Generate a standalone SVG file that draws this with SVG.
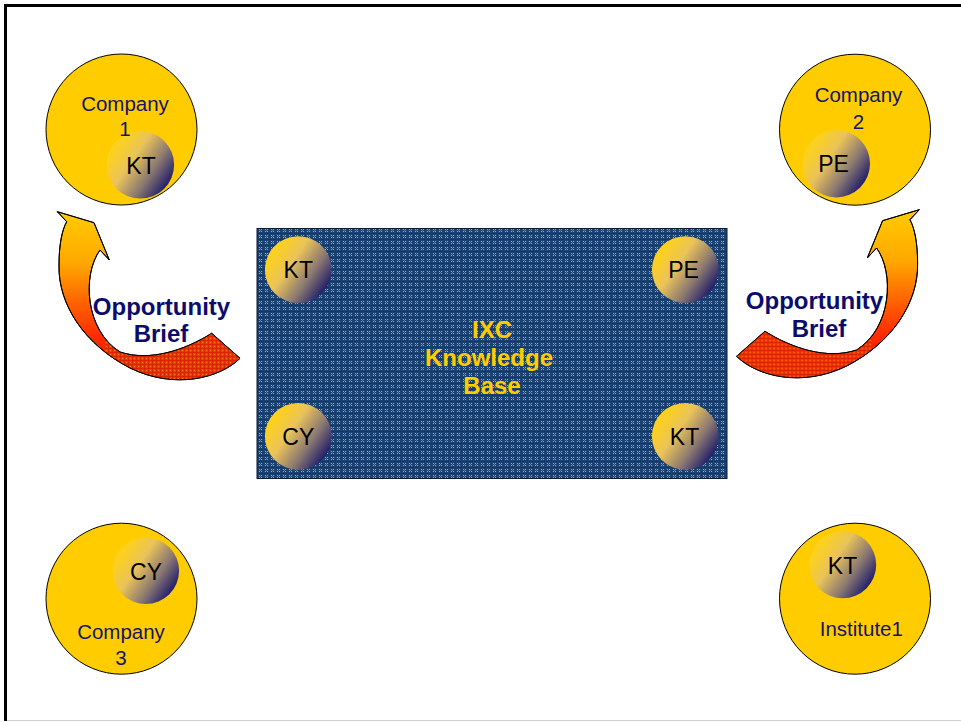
<svg xmlns="http://www.w3.org/2000/svg" width="961" height="722" viewBox="0 0 961 722">
<style>
.org{fill:#ffcc00;stroke:#000;stroke-width:1}
.ball{fill:url(#ballGrad)}
.balltxt{font-family:"Liberation Sans",Arial,sans-serif;font-size:23px;fill:#000;text-anchor:middle}
.orgtxt{font-family:"Liberation Sans",Arial,sans-serif;font-size:20.5px;fill:#15156b;text-anchor:middle}
.kbtxt{font-family:"Liberation Sans",Arial,sans-serif;font-size:24px;font-weight:bold;fill:#ffcc00;text-anchor:middle}
.arrtxt{font-family:"Liberation Sans",Arial,sans-serif;font-size:24px;font-weight:bold;fill:#0c0c6c;text-anchor:middle}
.arrow{fill:url(#arrowGrad);stroke:#000;stroke-width:1}
</style>
<defs>
<linearGradient id="ballGrad" x1="0.15" y1="0.25" x2="0.95" y2="0.8">
<stop offset="0" stop-color="#fcd020"/>
<stop offset="0.3" stop-color="#eac35a"/>
<stop offset="0.65" stop-color="#8a7872"/>
<stop offset="1" stop-color="#14126a"/>
</linearGradient>
<linearGradient id="arrowGrad" gradientUnits="userSpaceOnUse" x1="0" y1="212" x2="0" y2="380">
<stop offset="0" stop-color="#ffcc00"/>
<stop offset="0.3" stop-color="#ffa800"/>
<stop offset="0.55" stop-color="#ff6000"/>
<stop offset="0.75" stop-color="#ff2a00"/>
<stop offset="1" stop-color="#e01800"/>
</linearGradient>
<pattern id="kbPat" width="6" height="6" patternUnits="userSpaceOnUse">
<rect width="6" height="6" fill="#1a4272"/>
<rect x="1" y="1" width="1" height="1" fill="#8ea8c8"/>
<rect x="3" y="1" width="1" height="1" fill="#8ea8c8"/>
<rect x="1" y="3" width="1" height="1" fill="#8ea8c8"/>
<rect x="3" y="3" width="1" height="1" fill="#8ea8c8"/>
<rect x="2" y="2" width="1" height="1" fill="#5a7aa2"/>
<rect x="0" y="5" width="6" height="1" fill="#153766"/>
</pattern>
<pattern id="redPat" width="4" height="4" patternUnits="userSpaceOnUse">
<rect width="4" height="4" fill="#ff3a00"/>
<rect x="0" y="0" width="4" height="1" fill="#d82400"/>
<rect x="0" y="0" width="1" height="4" fill="#d82400"/>
<rect x="2" y="2" width="1" height="1" fill="#ff8a20"/>
</pattern>
<clipPath id="tailClip"><rect x="105" y="328" width="140" height="60"/></clipPath>
<path id="arrowShape" d="M57.3,211.7 L94,222.7 L109.3,260 L100,250 C82,275 85,330 120,352 C150,362 185,350 211.7,333.3 L240,358.3 C220,378 175,390 130,368 C85,345 58,305 59,265 C59,245 62,230 66.7,221.7 Z"/>
</defs>

<rect width="961" height="722" fill="#fff"/>
<g id="frame">
<line x1="5.5" y1="4" x2="5.5" y2="721" stroke="#000" stroke-width="3"/>
<line x1="4" y1="5.5" x2="961" y2="5.5" stroke="#000" stroke-width="3"/>
<line x1="7" y1="720.5" x2="961" y2="720.5" stroke="#d0d0d0" stroke-width="1"/>
</g>

<g id="connectors">
<g id="arrow-left">
<use href="#arrowShape" class="arrow"/>
<use href="#arrowShape" fill="url(#redPat)" clip-path="url(#tailClip)" opacity="0.85"/>
<use href="#arrowShape" fill="none" stroke="#000" stroke-width="1"/>
<text class="arrtxt" x="161.5" y="315">Opportunity</text>
<text class="arrtxt" x="161" y="341.5">Brief</text>
</g>
<g id="arrow-right">
<g transform="translate(976.6,-2) scale(-1,1)">
<use href="#arrowShape" class="arrow"/>
<use href="#arrowShape" fill="url(#redPat)" clip-path="url(#tailClip)" opacity="0.85"/>
<use href="#arrowShape" fill="none" stroke="#000" stroke-width="1"/>
</g>
<text class="arrtxt" x="814.5" y="308.5">Opportunity</text>
<text class="arrtxt" x="819" y="337">Brief</text>
</g>
</g>

<g id="company1">
<circle class="org" cx="121.5" cy="129.5" r="75.5"/>
<circle class="ball" cx="140.3" cy="164.8" r="33.8"/>
<text class="orgtxt" x="125" y="111">Company</text>
<text class="orgtxt" x="125" y="135.5">1</text>
<text class="balltxt" x="141" y="174">KT</text>
</g>

<g id="company2">
<circle class="org" cx="855" cy="129.7" r="75.5"/>
<circle class="ball" cx="836.3" cy="163.7" r="33.7"/>
<text class="orgtxt" x="858.5" y="102">Company</text>
<text class="orgtxt" x="858.5" y="128.5">2</text>
<text class="balltxt" x="833.5" y="171.7">PE</text>
</g>

<g id="company3">
<circle class="org" cx="121.5" cy="598.7" r="75.5"/>
<circle class="ball" cx="145.8" cy="570.8" r="33.3"/>
<text class="balltxt" x="146" y="580">CY</text>
<text class="orgtxt" x="121" y="639.3">Company</text>
<text class="orgtxt" x="121" y="665">3</text>
</g>

<g id="institute1">
<circle class="org" cx="855" cy="598.7" r="75.5"/>
<circle class="ball" cx="842.7" cy="564.8" r="33.5"/>
<text class="balltxt" x="842.5" y="574">KT</text>
<text class="orgtxt" x="861.3" y="636">Institute1</text>
</g>

<g id="knowledge-base">
<rect x="257" y="228.5" width="470" height="250" fill="url(#kbPat)" stroke="#0a1a33" stroke-width="1"/>
<circle class="ball" cx="298.3" cy="269.7" r="33.4"/>
<text class="balltxt" x="298.3" y="278">KT</text>
<circle class="ball" cx="685.3" cy="269.7" r="33.4"/>
<text class="balltxt" x="683.5" y="278">PE</text>
<circle class="ball" cx="298.3" cy="436.3" r="33.4"/>
<text class="balltxt" x="298.3" y="444.5">CY</text>
<circle class="ball" cx="685.3" cy="436.3" r="33.4"/>
<text class="balltxt" x="684.5" y="444.5">KT</text>
<text class="kbtxt" x="492" y="337.5">IXC</text>
<text class="kbtxt" x="489" y="365.7">Knowledge</text>
<text class="kbtxt" x="492" y="394">Base</text>
</g>
</svg>
